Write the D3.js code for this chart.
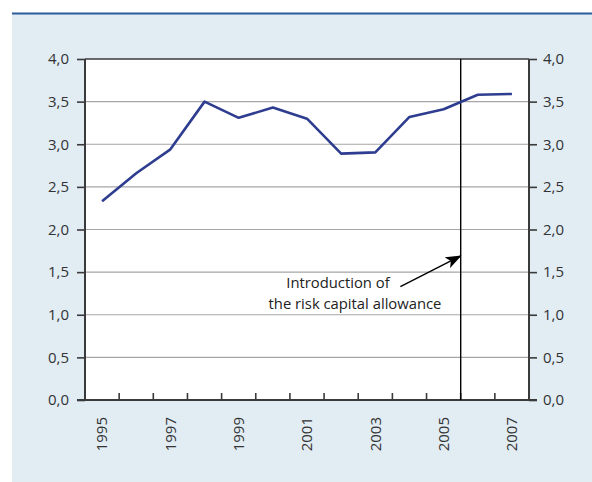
<!DOCTYPE html>
<html>
<head>
<meta charset="utf-8">
<script src="https://cdn.jsdelivr.net/npm/d3@7"></script>
<style>
  body { margin: 0; background: #fff; }
  svg { display: block; font-family: "Open Sans", sans-serif; }
</style>
</head>
<body>
<svg width="592" height="482"></svg>
<script>
// data
var years = [1995, 1996, 1997, 1998, 1999, 2000, 2001, 2002, 2003, 2004, 2005, 2006, 2007];
var values = [2.33, 2.66, 2.94, 3.50, 3.31, 3.43, 3.30, 2.89, 2.905, 3.32, 3.41, 3.58, 3.59];
var yTicks = [0, 0.5, 1, 1.5, 2, 2.5, 3, 3.5, 4];
var yearLabels = [1995, 1997, 1999, 2001, 2003, 2005, 2007];
var markerYear = 2006;
var noteLines = ['Introduction of', 'the risk capital allowance'];

var svg = d3.select('svg');

// panel background + blue rule on top
svg.append('rect').attr('x', 12).attr('y', 14).attr('width', 580).attr('height', 468).attr('fill', '#e1ecf3');
svg.append('line').attr('x1', 12).attr('x2', 592).attr('y1', 13.5).attr('y2', 13.5)
  .attr('stroke', '#2c5d9b').attr('stroke-width', 2);

var pLeft = 85, pRight = 529, pTop = 59, pBottom = 400;

var x = d3.scaleBand().domain(years).range([pLeft, pRight]).paddingInner(0).paddingOuter(0);
var y = d3.scaleLinear().domain([0, 4]).range([pBottom, pTop]);

var comma = d3.formatLocale({decimal: ',', thousands: '.', grouping: [3], currency: ['', '']}).format('.1f');

// plot area
svg.append('rect').attr('x', pLeft).attr('y', pTop).attr('width', pRight - pLeft).attr('height', pBottom - pTop).attr('fill', '#fff');

// gridlines
svg.append('g').selectAll('line')
  .data(yTicks.filter(function(d){ return d > 0 && d < 4; }))
  .enter().append('line')
    .attr('x1', pLeft).attr('x2', pRight)
    .attr('y1', function(d){ return y(d); }).attr('y2', function(d){ return y(d); })
    .attr('stroke', '#a6a6a6').attr('stroke-width', 1.2);

// top frame line
svg.append('line').attr('x1', pLeft).attr('x2', pRight).attr('y1', y(4)).attr('y2', y(4))
  .attr('stroke', '#3a3a3a').attr('stroke-width', 1.6);

// left / right axes
function styleAxis(g){
  g.selectAll('.domain').remove();
  g.selectAll('.tick line').attr('stroke', '#3a3a3a').attr('stroke-width', 1.6);
  g.selectAll('.tick text').attr('fill', '#333').style('font-size', '15px').style('font-family', '"Open Sans", sans-serif');
}

svg.append('g').attr('transform', 'translate(' + pLeft + ',0)')
  .call(d3.axisLeft(y).tickValues(yTicks).tickSize(8).tickPadding(8).tickFormat(comma))
  .call(styleAxis);
svg.append('g').attr('transform', 'translate(' + pRight + ',0)')
  .call(d3.axisRight(y).tickValues(yTicks).tickSize(8).tickPadding(6).tickFormat(comma))
  .call(styleAxis);

svg.append('line').attr('x1', pLeft).attr('x2', pLeft).attr('y1', pTop).attr('y2', pBottom)
  .attr('stroke', '#3a3a3a').attr('stroke-width', 2);
svg.append('line').attr('x1', pRight).attr('x2', pRight).attr('y1', pTop).attr('y2', pBottom)
  .attr('stroke', '#3a3a3a').attr('stroke-width', 2);

// bottom axis: small upward ticks at band edges
svg.append('g').selectAll('line')
  .data(years.slice(1))
  .enter().append('line')
    .attr('x1', function(d){ return x(d); }).attr('x2', function(d){ return x(d); })
    .attr('y1', pBottom).attr('y2', pBottom - 7)
    .attr('stroke', '#3a3a3a').attr('stroke-width', 1.6);

var xg = svg.append('g').attr('transform', 'translate(0,' + pBottom + ')')
  .call(d3.axisBottom(x).tickValues(yearLabels).tickSize(0).tickPadding(0));
xg.selectAll('.domain').remove();
xg.selectAll('.tick text')
  .attr('fill', '#333').style('font-size', '15px').style('font-family', '"Open Sans", sans-serif')
  .attr('transform', 'rotate(-90)')
  .attr('text-anchor', 'end')
  .attr('x', -17).attr('y', 0).attr('dy', '0.35em');

svg.append('line').attr('x1', pLeft - 8).attr('x2', pRight + 8).attr('y1', pBottom).attr('y2', pBottom)
  .attr('stroke', '#3a3a3a').attr('stroke-width', 2);

// vertical marker line
svg.append('line').attr('x1', x(markerYear)).attr('x2', x(markerYear)).attr('y1', pTop).attr('y2', pBottom)
  .attr('stroke', '#000').attr('stroke-width', 1.4);

// series line
var line = d3.line()
  .x(function(d, i){ return x(years[i]) + x.bandwidth() / 2; })
  .y(function(d){ return y(d); });

svg.append('path').datum(values)
  .attr('d', line)
  .attr('fill', 'none')
  .attr('stroke', '#2e3d8f')
  .attr('stroke-width', 2.6)
  .attr('stroke-linejoin', 'round');

// annotation
svg.append('defs').append('marker')
  .attr('id', 'arrow').attr('viewBox', '0 0 16 12').attr('refX', 15).attr('refY', 6)
  .attr('markerUnits', 'userSpaceOnUse').attr('markerWidth', 16).attr('markerHeight', 12)
  .attr('orient', 'auto')
  .append('path').attr('d', 'M0,0 L16,6 L0,12 L4,6 Z').attr('fill', '#000');

svg.append('line')
  .attr('x1', x(2004) + 8).attr('y1', y(1.33))
  .attr('x2', x(markerYear)).attr('y2', y(1.69))
  .attr('stroke', '#000').attr('stroke-width', 1.4)
  .attr('marker-end', 'url(#arrow)');

svg.append('text').attr('x', 338).attr('y', y(1.33) + 1)
  .attr('text-anchor', 'middle').attr('fill', '#222').style('font-size', '14.8px')
  .text(noteLines[0]);
svg.append('text').attr('x', 355).attr('y', y(1.07))
  .attr('text-anchor', 'middle').attr('fill', '#222').style('font-size', '14.8px')
  .text(noteLines[1]);
</script>
</body>
</html>
